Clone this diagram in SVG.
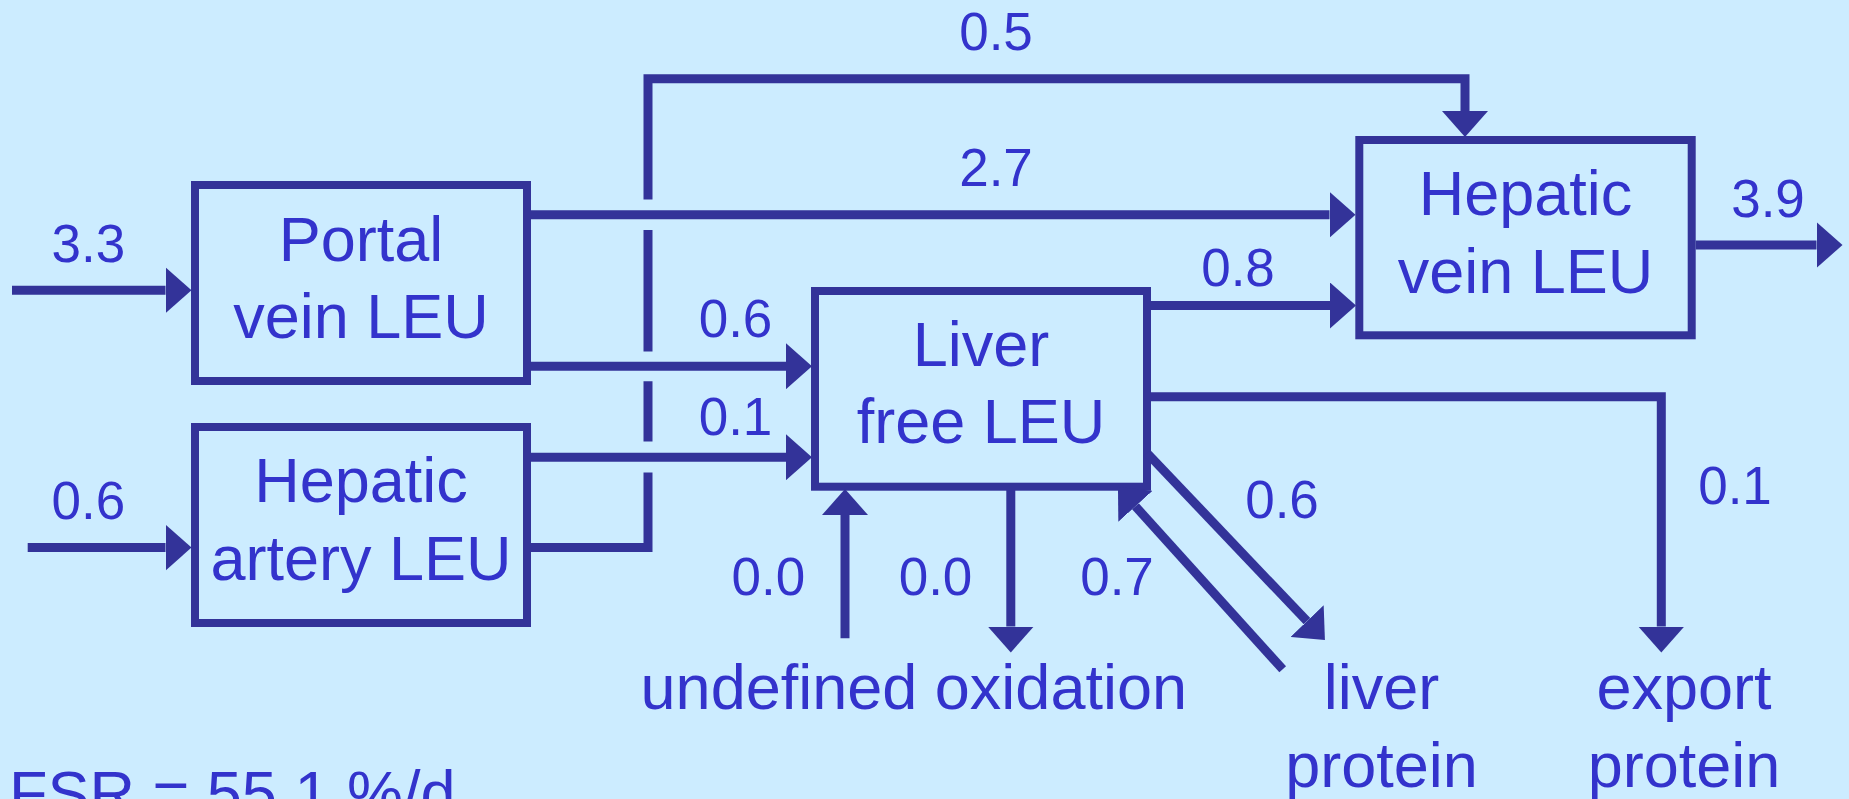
<svg xmlns="http://www.w3.org/2000/svg" width="1849" height="799" viewBox="0 0 1849 799">
  <defs>
    <style>
      .box { fill: none; stroke: #333399; stroke-width: 8; }
      .flow { fill: none; stroke: #333399; stroke-width: 9; stroke-linejoin: miter; stroke-linecap: butt; }
      .arrowed { marker-end: url(#head); }
      text { font-family: "Liberation Sans", Arial, sans-serif; fill: #3333CC; }
      .name { font-size: 63px; text-anchor: middle; }
      .num { font-size: 53px; text-anchor: middle; }
    </style>
    <!-- triangular arrowhead; its base sits on the end of the line -->
    <marker id="head" markerUnits="userSpaceOnUse" viewBox="0 0 26 46" refX="0" refY="23" markerWidth="26" markerHeight="46" orient="auto">
      <path d="M0,0 L26,23 L0,46 Z" fill="#333399"/>
    </marker>
  </defs>

  <rect width="1849" height="799" fill="#CCECFF"/>

  <!-- compartments -->
  <g id="portal-vein">
    <rect class="box" x="195" y="185" width="332" height="196"/>
    <text class="name" x="361" y="260.7">Portal</text>
    <text class="name" x="361" y="338">vein LEU</text>
  </g>
  <g id="hepatic-artery">
    <rect class="box" x="195" y="427" width="332" height="196"/>
    <text class="name" x="361" y="502.3">Hepatic</text>
    <text class="name" x="361" y="580">artery LEU</text>
  </g>
  <g id="liver-free">
    <rect class="box" x="815" y="291" width="332" height="195.7"/>
    <text class="name" x="981" y="365.7">Liver</text>
    <text class="name" x="981" y="443.3">free LEU</text>
  </g>
  <g id="hepatic-vein">
    <rect class="box" x="1359.3" y="140" width="332.4" height="195.3"/>
    <text class="name" x="1525.5" y="215">Hepatic</text>
    <text class="name" x="1525.5" y="292.7">vein LEU</text>
  </g>

  <!-- end points (sinks and sources) -->
  <g id="undefined-oxidation">
    <text class="name" x="913.8" y="709.3">undefined oxidation</text>
  </g>
  <g id="liver-protein">
    <text class="name" x="1381.5" y="709.3">liver</text>
    <text class="name" x="1381.5" y="786.7">protein</text>
  </g>
  <g id="export-protein">
    <text class="name" x="1684" y="709.3">export</text>
    <text class="name" x="1684" y="786.7">protein</text>
  </g>

  <!-- fluxes -->
  <g id="connectors">
    <path class="flow arrowed" d="M12,290.3 H165.5"/>
    <path class="flow arrowed" d="M27.7,547.6 H165.5"/>
    <path class="flow arrowed" d="M531,214.7 H1329.5"/>
    <path class="flow arrowed" d="M531,366.2 H786"/>
    <path class="flow arrowed" d="M531,457.2 H786"/>
    <!-- arterial bypass, broken where it crosses the portal lines -->
    <path class="flow arrowed" d="M531,547.6 H648 V472.4 M648,441.6 V381.2 M648,351.6 V230 M648,199.4 V78.7 H1465 V111"/>
    <path class="flow arrowed" d="M1151,305.5 H1330"/>
    <path class="flow arrowed" d="M1695.7,245 H1816.5"/>
    <path class="flow arrowed" d="M1151,396.7 H1661.3 V626.5"/>
    <path class="flow arrowed" d="M1010.8,490 V626.5"/>
    <path class="flow arrowed" d="M845,638.3 V515"/>
    <path class="flow arrowed" d="M1147,453 L1307,621.2"/>
    <path class="flow arrowed" d="M1282.7,669.3 L1135.4,506.3"/>
  </g>

  <!-- flux values -->
  <g id="values">
    <text class="num" x="88.4" y="262">3.3</text>
    <text class="num" x="88.4" y="519">0.6</text>
    <text class="num" x="996" y="50">0.5</text>
    <text class="num" x="996" y="186">2.7</text>
    <text class="num" x="1238" y="286">0.8</text>
    <text class="num" x="735.5" y="337">0.6</text>
    <text class="num" x="735.5" y="435">0.1</text>
    <text class="num" x="1768" y="216.7">3.9</text>
    <text class="num" x="768.4" y="594.7">0.0</text>
    <text class="num" x="935.5" y="595">0.0</text>
    <text class="num" x="1117" y="594.7">0.7</text>
    <text class="num" x="1282" y="518.3">0.6</text>
    <text class="num" x="1735" y="504">0.1</text>
  </g>

  <text x="9" y="815" font-size="63px">FSR = 55.1 %/d</text>
</svg>
